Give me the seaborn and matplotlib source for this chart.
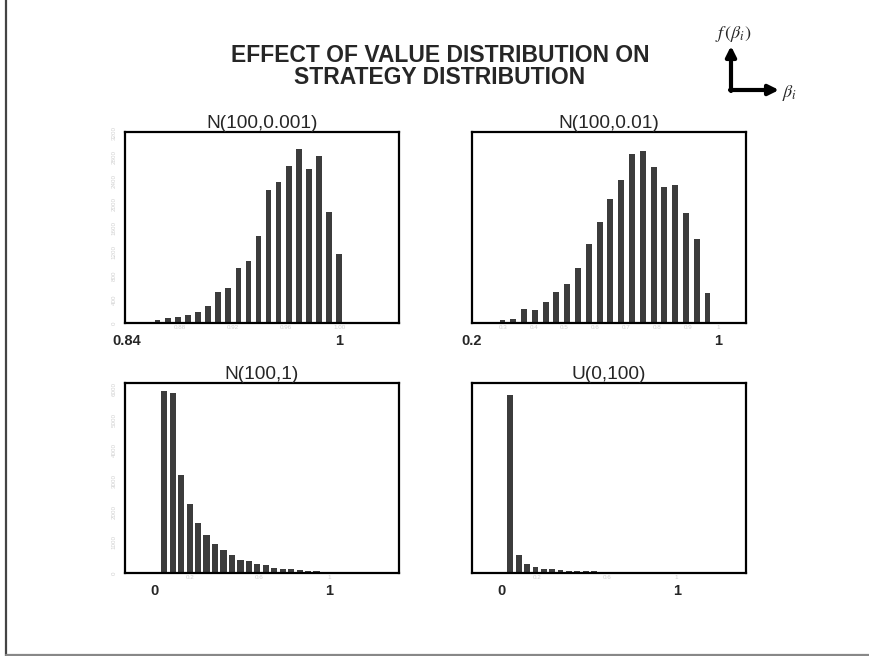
import numpy as np
import pandas as pd
import matplotlib
matplotlib.use("Agg")
import matplotlib.pyplot as plt
from matplotlib.lines import Line2D
import matplotlib.transforms as mtransforms
import seaborn as sns

# ── Data ─────────────────────────────────────────────────────
# N(100,0.001)
centers_a = [0.856, 0.863, 0.871, 0.878, 0.886, 0.894, 0.901, 0.909, 0.916, 0.924,
             0.932, 0.939, 0.947, 0.954, 0.962, 0.970, 0.977, 0.985, 0.992, 1.000]
counts_a = [23, 45, 85, 107, 135, 186, 282, 519, 598, 919,
            1043, 1472, 2239, 2385, 2650, 2932, 2588, 2808, 1878, 1167]

# N(100,0.01)
centers_b = [0.299, 0.334, 0.369, 0.404, 0.439, 0.474, 0.509, 0.544, 0.579, 0.614,
             0.649, 0.684, 0.719, 0.754, 0.789, 0.824, 0.859, 0.894, 0.929, 0.964]
counts_b = [46, 55, 187, 178, 287, 419, 537, 742, 1079, 1371,
            1689, 1953, 2300, 2336, 2127, 1849, 1876, 1503, 1138, 414]

# N(100,1)
centers_c = [0.054, 0.103, 0.151, 0.200, 0.248, 0.297, 0.345, 0.394, 0.442, 0.491,
             0.539, 0.588, 0.637, 0.685, 0.734, 0.782, 0.831, 0.879, 0.928, 0.977]
counts_c = [5946, 5870, 3207, 2261, 1620, 1250, 935, 739, 598, 435,
            402, 293, 261, 163, 141, 120, 87, 76, 54, 43]

# U(0,100)
centers_d = [0.049, 0.097, 0.145, 0.193, 0.240, 0.288, 0.336, 0.384, 0.432, 0.480,
             0.527, 0.575, 0.623, 0.671, 0.719, 0.767, 0.814, 0.862, 0.910, 0.958]
counts_d = [9351, 965, 474, 316, 228, 193, 140, 123, 105, 88,
            88, 70, 70, 70, 53, 53, 53, 53, 35, 35]

titles = ["N(100,0.001)", "N(100,0.01)", "N(100,1)", "U(0,100)"]
bold_ticks = [[0.84, 1], [0.2, 1], [0, 1], [0, 1]]
bold_labels = [["0.84", "1"], ["0.2", "1"], ["0", "1"], ["0", "1"]]
faint_xticks = [[0.88, 0.92, 0.96, 1.00],
                [0.3, 0.4, 0.5, 0.6, 0.7, 0.8, 0.9, 1.0],
                [0.2, 0.6, 1.0],
                [0.2, 0.6, 1.0]]
faint_yticks = [[0, 400, 800, 1200, 1600, 2000, 2400, 2800, 3200],
                [],
                [0, 1000, 2000, 3000, 4000, 5000, 6000],
                []]

# ── Style ────────────────────────────────────────────────────
sns.set_style("white")
plt.rcParams['font.family'] = ['Liberation Sans', 'DejaVu Sans']
plt.rcParams['mathtext.fontset'] = 'stix'

W, H = 870, 656
fig = plt.figure(figsize=(W / 100, H / 100), dpi=100)
fig.patch.set_facecolor("white")

# axes boxes in pixels: (left, top, right, bottom)
boxes = [(125, 132, 399, 323), (472, 132, 746, 323),
         (125, 383, 399, 573), (472, 383, 746, 573)]
xlims = [(0.839, 1.045), (0.2, 1.089), (-0.172, 1.402), (-0.17, 1.396)]
ylims = [(0, 3220), (0, 2600), (0, 6200), (0, 10000)]
shrinks = [0.55, 0.55, 0.74, 0.70]

panels = [(centers_a, counts_a), (centers_b, counts_b),
          (centers_c, counts_c), (centers_d, counts_d)]

bar_color = "#3c3c3c"
faint = "#d0d0d0"

for i, (centers, counts) in enumerate(panels):
    l, t, r, b = boxes[i]
    ax = fig.add_axes([l / W, 1 - b / H, (r - l) / W, (b - t) / H])
    df = pd.DataFrame({"beta": centers, "count": counts})
    bw = (centers[-1] - centers[0]) / (len(centers) - 1)
    sns.histplot(data=df, x="beta", weights="count", binwidth=bw,
                 binrange=(centers[0] - bw / 2, centers[-1] + bw / 2),
                 shrink=shrinks[i], color=bar_color, alpha=1,
                 edgecolor="none", ax=ax)
    ax.set_xlim(*xlims[i])
    ax.set_ylim(*ylims[i])
    ax.set_xlabel("")
    ax.set_ylabel("")
    ax.set_yticks([])
    ax.set_xticks(bold_ticks[i])
    ax.set_xticklabels(bold_labels[i], fontsize=10.5, fontweight="bold")
    ax.tick_params(axis="x", length=3, width=1.5, color="black", pad=5)
    for sp in ax.spines.values():
        sp.set_visible(True)
        sp.set_color("black")
        sp.set_linewidth(1.6)
    ax.set_title(titles[i], fontsize=13.8, pad=3)

    # faint original axis labels
    tx = mtransforms.blended_transform_factory(ax.transData, ax.transAxes)
    for v in faint_xticks[i]:
        ax.text(v, -0.012, f"{v:g}" if i != 0 else f"{v:.2f}", transform=tx,
                ha="center", va="top", fontsize=4.5, color=faint)
    ty = mtransforms.blended_transform_factory(ax.transAxes, ax.transData)
    for v in faint_yticks[i]:
        ax.text(-0.03, v, str(v), transform=ty, ha="right", va="center",
                rotation=90, fontsize=4.5, color=faint)

# ── Title ────────────────────────────────────────────────────
fig.text(440 / W, 1 - 55 / H, "EFFECT OF VALUE DISTRIBUTION ON",
         ha="center", va="center", fontsize=16.5, fontweight="bold")
fig.text(440 / W, 1 - 78 / H, "STRATEGY DISTRIBUTION",
         ha="center", va="center", fontsize=16.5, fontweight="bold")

# ── Axis icon (top right) ────────────────────────────────────
arrow = dict(arrowstyle="-|>", lw=3, color="black",
             mutation_scale=15, shrinkA=0, shrinkB=0)
fig.add_artist(plt.Annotation("", xy=(731, H - 46), xytext=(731, H - 91),
                              xycoords="figure pixels", arrowprops=arrow))
fig.add_artist(plt.Annotation("", xy=(779, H - 90), xytext=(730, H - 90),
                              xycoords="figure pixels", arrowprops=arrow))
fig.text(733 / W, 1 - 34 / H, r"$f\,(\beta_i)$", ha="center", va="center",
         fontsize=13)
fig.text(782 / W, 1 - 93 / H, r"$\beta_i$", ha="left", va="center",
         fontsize=13)

# ── Slide border ─────────────────────────────────────────────
fig.add_artist(Line2D([6.5 / W, 6.5 / W], [0, 1], transform=fig.transFigure,
                      color="#444444", lw=1.6))
fig.add_artist(Line2D([6 / W, 1], [1.2 / H, 1.2 / H], transform=fig.transFigure,
                      color="#888888", lw=1.6))

fig.savefig("out.png", dpi=100)
